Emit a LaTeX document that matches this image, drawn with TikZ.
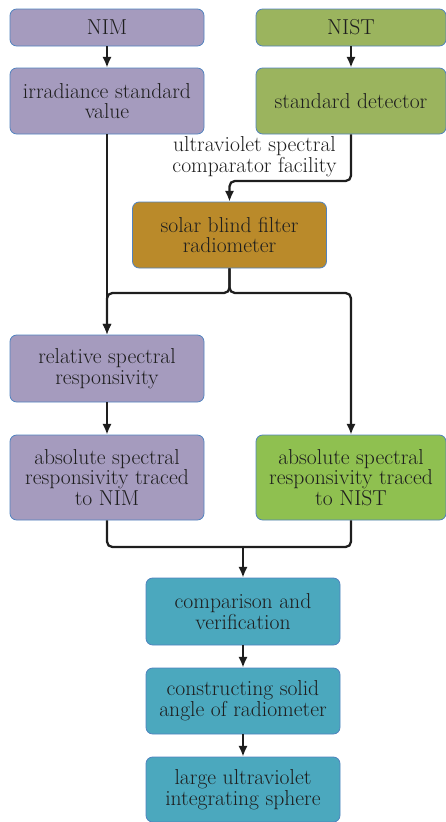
\documentclass[tikz,border=0pt]{standalone}
\usepackage{xcolor}
\usepackage{tikz}
\usetikzlibrary{arrows.meta, positioning}
\definecolor{nimpurple}{RGB}{165,155,190}
\definecolor{nistgreen}{RGB}{155,180,94}
\definecolor{nistlight}{RGB}{143,192,80}
\definecolor{radioorange}{RGB}{186,138,42}
\definecolor{stepteal}{RGB}{75,168,190}
\definecolor{boxedge}{RGB}{80,130,190}
\definecolor{ink}{RGB}{30,30,30}

\begin{document}
\begin{tikzpicture}[
    x=0.75pt, y=-0.75pt,
    box/.style={draw=boxedge, line width=0.6pt, rounded corners=5pt, align=center,
        text=ink, font=\fontsize{16.2}{15.5}\selectfont, inner sep=1pt, minimum width=145.5pt},
    link/.style={draw=ink, line width=1.7pt, rounded corners=4pt, -{Latex[length=8pt, width=7pt]}},
    line/.style={draw=ink, line width=1.7pt, rounded corners=4pt}
]
    \useasboundingbox (0,0) rectangle (446,822);

    % Sources
    \node[box, fill=nimpurple, minimum height=27.75pt] (nim) at (107, 27.5) {NIM};
    \node[box, fill=nistgreen, minimum height=27.75pt, minimum width=142.5pt] (nist) at (351, 27.5) {NIST};

    % Second row
    \node[box, fill=nimpurple, minimum height=49.5pt] (irr) at (107, 101) {irradiance standard\\value};
    \node[box, fill=nistgreen, minimum height=49.5pt, minimum width=142.5pt] (det) at (351, 101) {standard detector};

    % Transfer radiometer
    \node[font=\fontsize{16.2}{15.5}\selectfont, text=ink, align=center] (facility) at (254.5, 157) {ultraviolet spectral\\comparator facility};
    \node[box, fill=radioorange, minimum height=49.5pt] (radio) at (229.5, 235) {solar blind filter\\radiometer};

    % Responsivity
    \node[box, fill=nimpurple, minimum height=50.25pt] (rel) at (107, 368.5) {relative spectral\\responsivity};
    \node[box, fill=nimpurple, minimum height=63.75pt] (absnim) at (107, 477.5) {absolute spectral\\responsivity traced\\to NIM};
    \node[box, fill=nistlight, minimum height=63.75pt, minimum width=142.5pt] (absnist) at (351, 477.5) {absolute spectral\\responsivity traced\\to NIST};

    % Verification chain
    \node[box, fill=stepteal, minimum height=50.25pt] (comp) at (243, 611.5) {comparison and\\verification};
    \node[box, fill=stepteal, minimum height=49.5pt] (cons) at (243, 701) {constructing solid\\angle of radiometer};
    \node[box, fill=stepteal, minimum height=48.75pt] (sphere) at (243, 789.5) {large ultraviolet\\integrating sphere};

    % Bends and joins
    \coordinate (bend) at (229.5, 181);
    \coordinate (joinL) at (107, 293);
    \coordinate (joinR) at (351, 293);
    \coordinate (merge) at (243, 547);

    % Connectors
    \draw[link] (nim) -- (irr);
    \draw[link] (nist) -- (det);
    \draw[link] (det.south) |- (bend) -- (radio.north);
    \draw[link] (irr.south) -- (rel.north);
    \draw[link] (radio.south) |- (joinL) -- (rel.north);
    \draw[link] (radio.south) |- (joinR) -- (absnist.north);
    \draw[link] (rel) -- (absnim);
    \draw[line] (absnim.south) |- (merge);
    \draw[line] (absnist.south) |- (merge);
    \draw[link] (merge) -- (comp.north);
    \draw[link] (comp) -- (cons);
    \draw[link] (cons) -- (sphere);
\end{tikzpicture}
\end{document}
